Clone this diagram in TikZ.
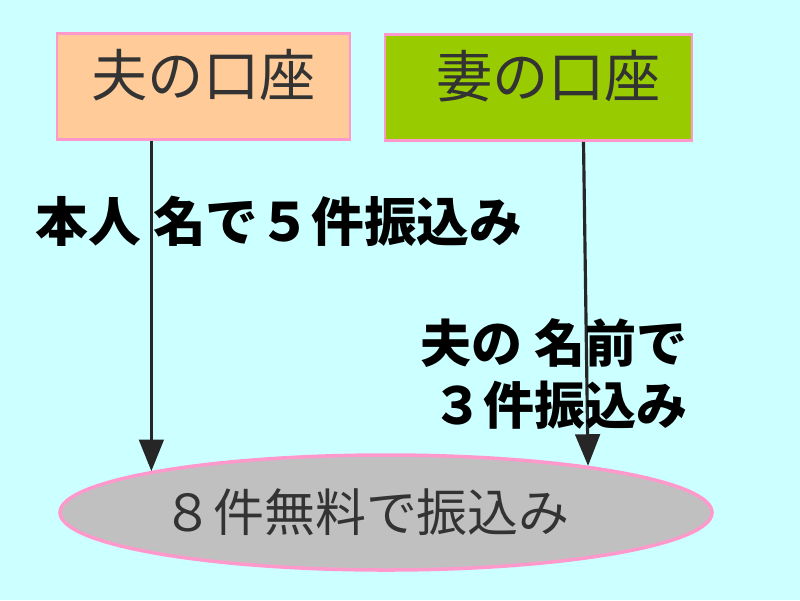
\documentclass[tikz,border=0pt]{standalone}
\usepackage{fontspec}
\usepackage{xcolor}
\usepackage{tikz}
\usetikzlibrary{arrows.meta, positioning, shapes.geometric, calc, backgrounds}
\newfontfamily\jp{Noto Sans CJK JP}

\definecolor{bgcyan}{HTML}{CCFFFF}
\definecolor{peach}{HTML}{FFCC99}
\definecolor{leaf}{HTML}{99CC00}
\definecolor{rimpink}{HTML}{FF99CC}
\definecolor{silver}{HTML}{C0C0C0}
\definecolor{ink}{HTML}{333333}

\begin{document}
\begin{tikzpicture}[
    >={Triangle[width=7pt,length=9pt]},
    acct/.style  = {rectangle, draw=rimpink, line width=0.8pt, font=\jp\fontsize{16}{18}\selectfont,
                    text=ink, text height=0.5cm, text depth=0.3cm, minimum height=1.06cm},
    pool/.style  = {ellipse, draw=rimpink, line width=1pt, fill=silver, text=ink,
                    font=\jp\fontsize{14.5}{16}\selectfont, minimum width=6.52cm, minimum height=1.15cm},
    flow/.style  = {->, line width=0.9pt, draw=black!85},
    note/.style  = {font=\jp\bfseries\fontsize{15}{18}\selectfont, text=black, inner sep=0pt}
  ]

  % ── Background / page size ─────────────────────────────────
  \fill[bgcyan] (0,0) rectangle (8,-6);
  \useasboundingbox (0,0) rectangle (8,-6);

  % ── Accounts ────────────────────────────────────────────────
  \node[acct, fill=peach, minimum width=2.93cm] (acctH) at (2.035,-0.865) {夫の口座};
  \node[acct, fill=leaf,  minimum width=3.07cm] (acctW) at (5.385,-0.875) {\hspace{2mm}妻の口座};

  % ── Result ──────────────────────────────────────────────────
  \node[pool] (free) at (3.86,-5.125) {\hspace{-4mm}８件無料で振込み};

  % ── Transfers ───────────────────────────────────────────────
  \draw[flow] (free.170.4 |- acctH.south) -- (free.170.4);
  \draw[flow] ([xshift=4.5mm]acctW.south) -- (free.13);

  % ── Labels ──────────────────────────────────────────────────
  \node[note] (noteH) at (2.79,-2.21) {本人 名で５件振込み};
  \node[note, align=right, font=\jp\bfseries\fontsize{14.5}{17.6}\selectfont]
        (noteW) at (5.54,-3.74) {夫の 名前で\\３件振込み};

\end{tikzpicture}
\end{document}
